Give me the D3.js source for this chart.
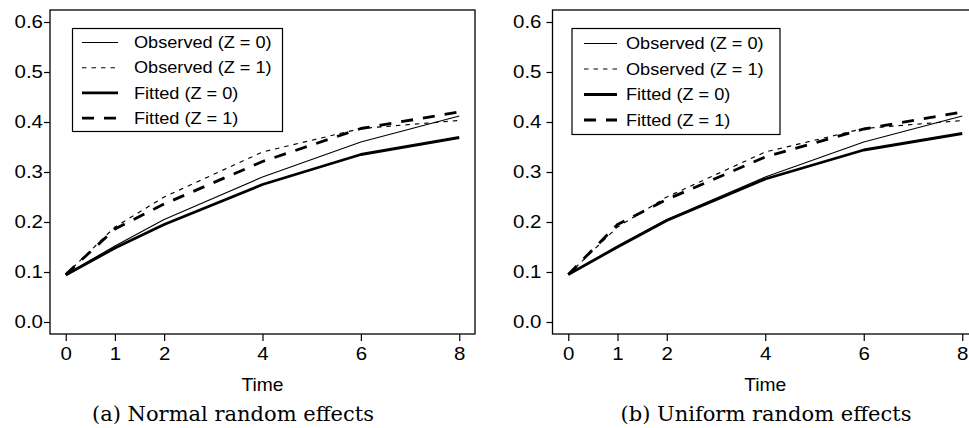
<!DOCTYPE html>
<html>
<head>
<meta charset="utf-8">
<script src="https://cdn.jsdelivr.net/npm/d3@7"></script>
<style>
  body { margin: 0; background: #fff; }
  svg { display: block; }
  .tick text { font-family: "Liberation Sans", Arial, sans-serif; }
</style>
</head>
<body>
<div id="chart"></div>
<script>
// data
var times = [0, 1, 2, 4, 6, 8];
var observedZ0 = [0.095, 0.152, 0.205, 0.290, 0.360, 0.412];
var observedZ1 = [0.095, 0.190, 0.250, 0.340, 0.387, 0.403];
var normalFittedZ0 = [0.094, 0.148, 0.195, 0.275, 0.335, 0.369];
var normalFittedZ1 = [0.095, 0.186, 0.236, 0.321, 0.387, 0.420];
var uniformFittedZ0 = [0.095, 0.150, 0.203, 0.286, 0.344, 0.377];
var uniformFittedZ1 = [0.095, 0.195, 0.245, 0.330, 0.386, 0.420];

var xTicks = [0, 1, 2, 4, 6, 8];
var yTicks = [0.0, 0.1, 0.2, 0.3, 0.4, 0.5, 0.6];
var legendLabels = ["Observed (Z = 0)", "Observed (Z = 1)", "Fitted (Z = 0)", "Fitted (Z = 1)"];
var captions = ["(a) Normal random effects", "(b) Uniform random effects"];
var xTitle = "Time";

function init(){
    var w = 969;
    var h = 428;
    var sans = '"Liberation Sans", Arial, sans-serif';
    var sx = 1.1;    // the source figure is slightly stretched sideways
    var tsx = 1.17;  // tick labels look a bit wider still
    var stretch = "scale(" + sx + ",1)";
    var tickStretch = "scale(" + tsx + ",1)";

    // line styles: observed Z0, observed Z1, fitted Z0, fitted Z1
    var styles = [
        {width: 1.15, dash: null},
        {width: 1.15, dash: "4.5,5"},
        {width: 2.8, dash: null},
        {width: 2.8, dash: "12,10"}
    ];

    var panels = [
        {left: 50, right: 475, fitted: [normalFittedZ0, normalFittedZ1],
         legend: {x: 72.5, y: 28.5, w: 210, h: 103, lineX: 82, lineW: 36, textX: 134, row0: 42.5, step: 25.2},
         labelX: 43, captionX: 233},
        {left: 552.5, right: 978, fitted: [uniformFittedZ0, uniformFittedZ1],
         legend: {x: 572, y: 28.5, w: 208, h: 106, lineX: 584, lineW: 33, textX: 626, row0: 43.5, step: 25.5},
         labelX: 541.5, captionX: 766}
    ];

    var svg = d3.select("#chart")
                .append("svg")
                .attr("width", w)
                .attr("height", h);

    panels.forEach(function(p, pi){
        var x = d3.scaleLinear().domain([-0.32, 8.32]).range([p.left, p.right]);
        var y = d3.scaleLinear().domain([-0.024, 0.624]).range([334, 10]);

        var series = [observedZ0, observedZ1, p.fitted[0], p.fitted[1]];

        var line = d3.line()
                     .x(function(d, i){ return x(times[i]); })
                     .y(function(d){ return y(d); });

        var g = svg.append("g");

        // lines
        series.forEach(function(s, i){
            g.append("path")
             .datum(s)
             .attr("fill", "none")
             .attr("stroke", "#000")
             .attr("stroke-width", styles[i].width)
             .attr("stroke-dasharray", styles[i].dash)
             .attr("stroke-linejoin", "round")
             .attr("d", line);
        });

        // box
        g.append("rect")
         .attr("x", p.left)
         .attr("y", 10)
         .attr("width", p.right - p.left)
         .attr("height", 324)
         .attr("fill", "none")
         .attr("stroke", "#000")
         .attr("stroke-width", 1.3);

        // y axis
        var yAxis = g.append("g")
                     .attr("transform", "translate(" + p.left + ",0)")
                     .call(d3.axisLeft(y).tickValues(yTicks).tickSize(6).tickPadding(2).tickFormat(d3.format(".1f")));
        yAxis.select(".domain").remove();
        yAxis.selectAll(".tick line").attr("stroke-width", 1.2);
        yAxis.selectAll(".tick text")
             .attr("font-size", 17.5)
             .attr("fill", "#000")
             .attr("transform", tickStretch)
             .attr("x", (p.labelX - p.left) / tsx);

        // x axis
        var xAxis = g.append("g")
                     .attr("transform", "translate(0,334)")
                     .call(d3.axisBottom(x).tickValues(xTicks).tickSize(7).tickPadding(7).tickFormat(d3.format("d")));
        xAxis.select(".domain").remove();
        xAxis.selectAll(".tick line").attr("stroke-width", 1.2);
        xAxis.selectAll(".tick text")
             .attr("font-size", 17.5)
             .attr("fill", "#000")
             .attr("transform", tickStretch);

        // x title
        g.append("text")
         .attr("transform", "translate(" + ((p.left + p.right) / 2) + ",391) " + stretch)
         .attr("text-anchor", "middle")
         .attr("font-family", sans)
         .attr("font-size", 17.5)
         .text(xTitle);

        // caption
        g.append("text")
         .attr("x", p.captionX)
         .attr("y", 421)
         .attr("text-anchor", "middle")
         .attr("font-family", '"DejaVu Serif", serif')
         .attr("font-size", 21)
         .text(captions[pi]);

        // legend
        var L = p.legend;
        g.append("rect")
         .attr("x", L.x)
         .attr("y", L.y)
         .attr("width", L.w)
         .attr("height", L.h)
         .attr("fill", "#fff")
         .attr("stroke", "#000")
         .attr("stroke-width", 1.2);

        var rows = g.selectAll("g.legrow")
                    .data(legendLabels)
                    .enter()
                    .append("g")
                    .attr("class", "legrow")
                    .attr("transform", function(d, i){
                        return "translate(0," + (L.row0 + i * L.step) + ")";
                    });

        rows.append("line")
            .attr("x1", L.lineX)
            .attr("x2", L.lineX + L.lineW)
            .attr("stroke", "#000")
            .attr("stroke-width", function(d, i){ return styles[i].width; })
            .attr("stroke-dasharray", function(d, i){ return styles[i].dash; });

        rows.append("text")
            .attr("transform", "translate(" + L.textX + ",0) " + stretch)
            .attr("dy", "0.35em")
            .attr("font-family", sans)
            .attr("font-size", 16.5)
            .text(function(d){ return d; });
    });
}
window.onload = init;
</script>
</body>
</html>
